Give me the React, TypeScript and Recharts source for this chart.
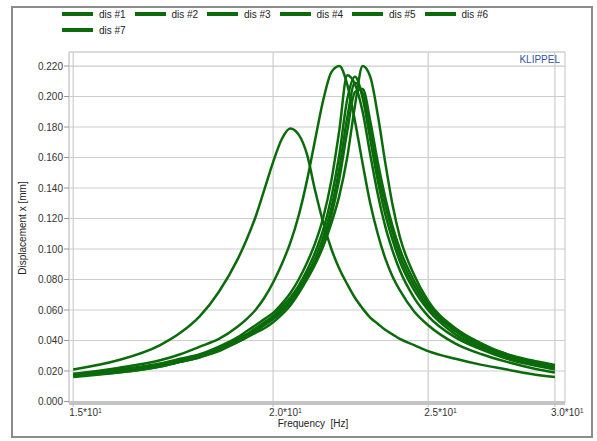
import { LineChart, Line, XAxis, YAxis, CartesianGrid, ReferenceLine } from 'recharts';

const FREQ = [15, 16, 17, 17.5, 18, 18.5, 19, 19.25, 19.5, 19.75, 20, 20.25, 20.5, 20.75, 21, 21.25, 21.5, 21.75, 22, 22.25, 22.5, 22.75, 23, 23.25, 23.5, 23.75, 24, 24.5, 25, 26, 27, 28, 29, 30];

const DIS1 = [0.021, 0.027, 0.037, 0.045, 0.056, 0.072, 0.093, 0.106, 0.121, 0.139, 0.157, 0.172, 0.179, 0.175, 0.162, 0.138, 0.117, 0.1, 0.087, 0.077, 0.068, 0.061, 0.055, 0.051, 0.047, 0.044, 0.041, 0.037, 0.033, 0.028, 0.024, 0.021, 0.018, 0.016];
const DIS2 = [0.018, 0.022, 0.027, 0.031, 0.036, 0.041, 0.049, 0.054, 0.06, 0.068, 0.078, 0.09, 0.104, 0.122, 0.145, 0.172, 0.198, 0.216, 0.22, 0.208, 0.184, 0.156, 0.13, 0.11, 0.094, 0.082, 0.073, 0.059, 0.05, 0.038, 0.031, 0.026, 0.022, 0.019];
const DIS3 = [0.018, 0.021, 0.025, 0.028, 0.031, 0.036, 0.042, 0.046, 0.05, 0.054, 0.058, 0.064, 0.071, 0.08, 0.091, 0.104, 0.121, 0.145, 0.178, 0.214, 0.208, 0.19, 0.162, 0.136, 0.115, 0.099, 0.086, 0.068, 0.056, 0.042, 0.034, 0.028, 0.024, 0.021];
const DIS4 = [0.017, 0.02, 0.024, 0.027, 0.03, 0.035, 0.041, 0.044, 0.048, 0.052, 0.056, 0.062, 0.068, 0.076, 0.086, 0.098, 0.113, 0.134, 0.162, 0.198, 0.213, 0.199, 0.172, 0.145, 0.123, 0.106, 0.092, 0.073, 0.06, 0.044, 0.035, 0.029, 0.025, 0.022];
const DIS5 = [0.017, 0.02, 0.024, 0.026, 0.03, 0.034, 0.04, 0.043, 0.047, 0.051, 0.055, 0.06, 0.066, 0.074, 0.083, 0.094, 0.108, 0.127, 0.153, 0.186, 0.209, 0.202, 0.178, 0.151, 0.129, 0.111, 0.096, 0.076, 0.062, 0.046, 0.036, 0.03, 0.025, 0.022];
const DIS6 = [0.016, 0.019, 0.023, 0.026, 0.029, 0.033, 0.039, 0.042, 0.046, 0.05, 0.054, 0.059, 0.065, 0.072, 0.081, 0.091, 0.104, 0.122, 0.146, 0.177, 0.203, 0.205, 0.184, 0.157, 0.134, 0.115, 0.1, 0.079, 0.064, 0.047, 0.037, 0.031, 0.026, 0.023];
const DIS7 = [0.017, 0.019, 0.023, 0.026, 0.029, 0.034, 0.039, 0.042, 0.045, 0.048, 0.052, 0.057, 0.063, 0.071, 0.08, 0.09, 0.102, 0.117, 0.135, 0.16, 0.194, 0.22, 0.213, 0.188, 0.157, 0.129, 0.108, 0.083, 0.066, 0.048, 0.038, 0.031, 0.027, 0.024];

const SERIES = [
  { key: 'd1', name: 'dis #1', values: DIS1 },
  { key: 'd2', name: 'dis #2', values: DIS2 },
  { key: 'd3', name: 'dis #3', values: DIS3 },
  { key: 'd4', name: 'dis #4', values: DIS4 },
  { key: 'd5', name: 'dis #5', values: DIS5 },
  { key: 'd6', name: 'dis #6', values: DIS6 },
  { key: 'd7', name: 'dis #7', values: DIS7 },
];

const X_TICKS = [15, 20, 25, 30];
const X_TICK_LABELS = ['1.5*10', '2.0*10', '2.5*10', '3.0*10'];
const Y_TICKS = [0, 0.02, 0.04, 0.06, 0.08, 0.1, 0.12, 0.14, 0.16, 0.18, 0.2, 0.22];

const X_DOMAIN = [14.91, 30.44];
const Y_DOMAIN = [-0.001, 0.2292];
const MINOR_STEP = 0.004;
const MINOR_TICKS = Array.from({ length: 57 }, (_, i) => +(i * MINOR_STEP).toFixed(3));

const GREEN = '#0b6b0b';
const FONT = '"Liberation Sans", Arial, sans-serif';
const PLOT_LEFT = 69;
const PX_PER_UNIT = 1525;

const data = FREQ.map((f, i) => {
  const row: Record<string, number> = { f };
  SERIES.forEach((s) => {
    row[s.key] = s.values[i];
  });
  return row;
});

function XTick({ x, y, payload }: any) {
  const idx = X_TICKS.indexOf(payload.value);
  return (
    <text x={x - 4} y={y + 7} fontSize={10} fill="#333" fontFamily={FONT} textAnchor="start">
      {X_TICK_LABELS[idx]}
      <tspan fontSize={7} dy={-3}>1</tspan>
    </text>
  );
}

function LadderTick({ y }: any) {
  const h = MINOR_STEP * PX_PER_UNIT;
  return <rect x={PLOT_LEFT} y={y - h} width={7} height={h} fill="none" stroke="#cfcfcf" strokeWidth={1} />;
}

function ChartLegend() {
  return (
    <div style={{ position: 'absolute', left: 62, top: 8, display: 'flex', flexWrap: 'wrap', width: 440, rowGap: 4 }}>
      {SERIES.map((s) => (
        <div key={s.key} style={{ display: 'flex', alignItems: 'center', width: 72.5, height: 12 }}>
          <span style={{ display: 'inline-block', width: 31, height: 4, background: GREEN, marginRight: 6 }} />
          <span style={{ fontSize: 10, color: '#222' }}>{s.name}</span>
        </div>
      ))}
    </div>
  );
}

export default function App() {
  return (
    <div style={{ position: 'absolute', left: 0, top: 0, width: 597, height: 441, background: '#fff', fontFamily: FONT }}>
      <div
        style={{
          position: 'absolute',
          left: 11,
          top: 6,
          width: 582,
          height: 432,
          boxSizing: 'border-box',
          border: '2px solid #8c8c8c',
        }}
      />
      <ChartLegend />
      <div style={{ position: 'absolute', left: 0, top: 0 }}>
        <LineChart width={597} height={441} data={data} margin={{ top: 52, right: 32, left: 0, bottom: 0 }}>
          <CartesianGrid stroke="#cdcdcd" strokeWidth={1.2} />
          <XAxis
            dataKey="f"
            type="number"
            scale="log"
            domain={X_DOMAIN}
            allowDataOverflow
            ticks={X_TICKS}
            tick={<XTick />}
            tickSize={4}
            tickLine={{ stroke: '#bbb' }}
            axisLine={{ stroke: '#c4c4c4', strokeWidth: 4 }}
            height={38}
          />
          <YAxis
            type="number"
            domain={Y_DOMAIN}
            allowDataOverflow
            ticks={Y_TICKS}
            tickFormatter={(v: number) => v.toFixed(3)}
            tick={{ fontSize: 10, fill: '#333', fontFamily: FONT }}
            tickSize={5}
            tickMargin={1}
            tickLine={{ stroke: '#999' }}
            axisLine={{ stroke: '#cfcfcf' }}
            width={69}
          />
          <YAxis
            yAxisId="minor"
            type="number"
            domain={Y_DOMAIN}
            allowDataOverflow
            ticks={MINOR_TICKS}
            mirror
            width={0}
            tick={<LadderTick />}
            tickLine={false}
            axisLine={false}
          />
          <YAxis
            yAxisId="right"
            orientation="right"
            type="number"
            domain={Y_DOMAIN}
            allowDataOverflow
            width={0}
            tick={false}
            tickLine={false}
            axisLine={{ stroke: '#c4c4c4', strokeWidth: 4 }}
          />
          <ReferenceLine y={Y_DOMAIN[1]} stroke="#cfcfcf" />
          {SERIES.map((s) => (
            <Line
              key={s.key}
              dataKey={s.key}
              name={s.name}
              type="monotone"
              stroke={GREEN}
              strokeWidth={2.5}
              dot={false}
              isAnimationActive={false}
            />
          ))}
        </LineChart>
      </div>
      <div style={{ position: 'absolute', right: 37, top: 54, fontSize: 10, color: '#3553a4' }}>KLIPPEL</div>
      <div style={{ position: 'absolute', left: 263, top: 418, width: 100, textAlign: 'center', fontSize: 10, color: '#222', whiteSpace: 'pre' }}>
        Frequency  [Hz]
      </div>
      <div
        style={{
          position: 'absolute',
          left: 22,
          top: 228,
          fontSize: 10,
          color: '#222',
          whiteSpace: 'nowrap',
          transform: 'translate(-50%, -50%) rotate(-90deg)',
        }}
      >
        Displacement x [mm]
      </div>
    </div>
  );
}
